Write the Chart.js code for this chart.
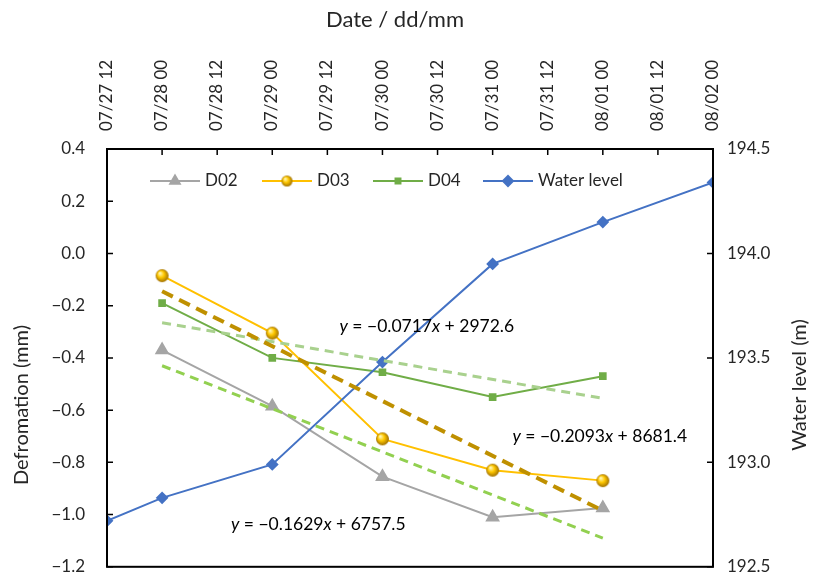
<!DOCTYPE html>
<html>
<head>
<meta charset="utf-8">
<script src="https://cdn.jsdelivr.net/npm/chart.js@4.4.1/dist/chart.umd.min.js"></script>
<style>
  html, body { margin: 0; padding: 0; background: #fff; }
</style>
</head>
<body>
<canvas id="deformChart" width="819" height="579"></canvas>
<script>
// x values are days counted from 07/27 00:00
const tickLabels = ['07/27 12', '07/28 00', '07/28 12', '07/29 00', '07/29 12', '07/30 00',
                    '07/30 12', '07/31 00', '07/31 12', '08/01 00', '08/01 12', '08/02 00'];
const seriesDays = [1, 2, 3, 4, 5];
const waterDays = [0.5, 1, 2, 3, 4, 5, 6];
const d02 = [-0.37, -0.585, -0.855, -1.01, -0.975];
const d03 = [-0.085, -0.305, -0.71, -0.83, -0.87];
const d04 = [-0.19, -0.40, -0.455, -0.55, -0.47];
const waterLevel = [192.72, 192.83, 192.99, 193.48, 193.95, 194.15, 194.34];
const trendDays = [1, 5];
const trendD02 = [-0.43, -1.09];
const trendD03 = [-0.145, -0.985];
const trendD04 = [-0.265, -0.555];

const FONT = 'Lato, "Open Sans", sans-serif';
const TEXT = '#262626';

function pts(xs, ys) {
    return xs.map((x, i) => ({ x: x, y: ys[i] }));
}

// shiny gold ball marker for D03
function ballMarker(r) {
    const c = document.createElement('canvas');
    c.width = r * 2 + 2;
    c.height = r * 2 + 2;
    const g = c.getContext('2d');
    const cx = r + 1, cy = r + 1;
    const grad = g.createRadialGradient(cx - r * 0.35, cy - r * 0.4, r * 0.1, cx, cy, r);
    grad.addColorStop(0, '#fff6b0');
    grad.addColorStop(0.45, '#ffc800');
    grad.addColorStop(1, '#a07000');
    g.fillStyle = grad;
    g.beginPath();
    g.arc(cx, cy, r, 0, Math.PI * 2);
    g.fill();
    return c;
}
const goldBall = ballMarker(6.5);
const goldBallSmall = ballMarker(5.5);

const fmtMinus = (v, d) => (v < 0 ? '\u2212' : '') + Math.abs(v).toFixed(d);

// invisible tick marks push the labels away from the frame
const hiddenGrid = len => ({
    display: true, drawOnChartArea: false, drawTicks: true, tickLength: len, color: 'rgba(0,0,0,0)'
});

const decorPlugin = {
    id: 'decor',
    afterDraw(chart) {
        const ctx = chart.ctx;
        const a = chart.chartArea;
        const xs = chart.scales.x, yl = chart.scales.y, yr = chart.scales.y2;
        ctx.save();

        // frame
        ctx.strokeStyle = '#000';
        ctx.lineWidth = 2;
        ctx.strokeRect(a.left, a.top, a.right - a.left, a.bottom - a.top);

        // inner tick marks
        ctx.lineWidth = 1.5;
        ctx.beginPath();
        xs.ticks.forEach(t => {
            const px = xs.getPixelForValue(t.value);
            ctx.moveTo(px, a.top); ctx.lineTo(px, a.top + 6);
        });
        yl.ticks.forEach(t => {
            const py = yl.getPixelForValue(t.value);
            ctx.moveTo(a.left, py); ctx.lineTo(a.left + 6, py);
        });
        yr.ticks.forEach(t => {
            const py = yr.getPixelForValue(t.value);
            ctx.moveTo(a.right, py); ctx.lineTo(a.right - 6, py);
        });
        ctx.stroke();

        // titles
        ctx.fillStyle = TEXT;
        ctx.textAlign = 'center';
        ctx.textBaseline = 'middle';
        ctx.font = '22px ' + FONT;
        ctx.fillText('Date / dd/mm', 395, 20);
        ctx.font = '20px ' + FONT;
        ctx.save();
        ctx.translate(22, 405);
        ctx.rotate(-Math.PI / 2);
        ctx.fillText('Defromation (mm)', 0, 0);
        ctx.restore();
        ctx.save();
        ctx.translate(800, 385);
        ctx.rotate(-Math.PI / 2);
        ctx.fillText('Water level (m)', 0, 0);
        ctx.restore();

        // legend inside plot
        const ly = a.top + 32;
        const items = [
            { label: 'D02', color: '#a5a5a5', style: 'triangle', r: 5.5, x0: 150 },
            { label: 'D03', color: '#ffc000', style: goldBallSmall, r: 5.5, x0: 262 },
            { label: 'D04', color: '#70ad47', style: 'rect', r: 3.5, x0: 373 },
            { label: 'Water level', color: '#4472c4', style: 'rectRot', r: 5, x0: 483 }
        ];
        items.forEach(it => {
            ctx.strokeStyle = it.color;
            ctx.fillStyle = it.color;
            ctx.lineWidth = 2;
            ctx.beginPath();
            ctx.moveTo(it.x0, ly); ctx.lineTo(it.x0 + 50, ly);
            ctx.stroke();
            Chart.helpers.drawPoint(ctx, { pointStyle: it.style, radius: it.r, borderWidth: 1, rotation: 0 }, it.x0 + 25, ly);
            ctx.fillStyle = TEXT;
            ctx.font = '17px ' + FONT;
            ctx.textAlign = 'left';
            ctx.fillText(it.label, it.x0 + 55, ly);
        });

        // trendline equations
        const eqs = [
            { day: 2.61, val: -0.281, slope: '0.0717', icpt: '2972.6' },
            { day: 4.18, val: -0.702, slope: '0.2093', icpt: '8681.4' },
            { day: 1.625, val: -1.039, slope: '0.1629', icpt: '6757.5' }
        ];
        ctx.fillStyle = '#000';
        ctx.textAlign = 'left';
        eqs.forEach(e => {
            let px = xs.getPixelForValue(e.day);
            const py = yl.getPixelForValue(e.val);
            const parts = [
                ['y', 'italic '], [' = \u2212' + e.slope, ''], ['x', 'italic '], [' + ' + e.icpt, '']
            ];
            parts.forEach(p => {
                ctx.font = p[1] + '17.5px ' + FONT;
                ctx.fillText(p[0], px, py);
                px += ctx.measureText(p[0]).width;
            });
        });
        ctx.restore();
    }
};

const ctx = document.getElementById('deformChart').getContext('2d');
const deformChart = new Chart(ctx, {
    type: 'line',
    data: {
        datasets: [
            {
                label: 'D02 trend', data: pts(trendDays, trendD02), yAxisID: 'y',
                borderColor: '#92d050', borderWidth: 3, borderDash: [9, 6], pointRadius: 0
            },
            {
                label: 'D03 trend', data: pts(trendDays, trendD03), yAxisID: 'y',
                borderColor: '#bf9000', borderWidth: 4, borderDash: [12, 7], pointRadius: 0
            },
            {
                label: 'D04 trend', data: pts(trendDays, trendD04), yAxisID: 'y',
                borderColor: '#a9d18e', borderWidth: 3, borderDash: [9, 6], pointRadius: 0
            },
            {
                label: 'D02', data: pts(seriesDays, d02), yAxisID: 'y',
                borderColor: '#a5a5a5', backgroundColor: '#a5a5a5', borderWidth: 2,
                pointStyle: 'triangle', pointRadius: 6.5, order: 4
            },
            {
                label: 'D03', data: pts(seriesDays, d03), yAxisID: 'y',
                borderColor: '#ffc000', backgroundColor: '#ffc000', borderWidth: 2,
                pointStyle: goldBall, pointRadius: 6.5, order: 3
            },
            {
                label: 'D04', data: pts(seriesDays, d04), yAxisID: 'y',
                borderColor: '#70ad47', backgroundColor: '#70ad47', borderWidth: 2,
                pointStyle: 'rect', pointRadius: 4, order: 2
            },
            {
                label: 'Water level', data: pts(waterDays, waterLevel), yAxisID: 'y2',
                borderColor: '#4472c4', backgroundColor: '#4472c4', borderWidth: 2,
                pointStyle: 'rectRot', pointRadius: 5, order: 1
            }
        ]
    },
    options: {
        responsive: false,
        animation: false,
        layout: { padding: { left: 0, right: 0, top: 0, bottom: 12 } },
        plugins: { legend: { display: false }, tooltip: { enabled: false } },
        elements: { line: { tension: 0 } },
        scales: {
            x: {
                type: 'linear', position: 'top', min: 0.5, max: 6,
                grid: { display: false }, border: { display: false },
                afterFit: s => { s.height = 149; },
                ticks: {
                    stepSize: 0.5, autoSkip: false, maxRotation: 90, minRotation: 90,
                    padding: 10, labelOffset: 20,
                    color: TEXT, font: { family: FONT, size: 17 },
                    callback: v => tickLabels[Math.round((v - 0.5) / 0.5)]
                }
            },
            y: {
                position: 'left', min: -1.2, max: 0.4,
                grid: hiddenGrid(20), border: { display: false },
                afterFit: s => { s.width = 107; },
                ticks: {
                    stepSize: 0.2, padding: 2, color: TEXT, font: { family: FONT, size: 17 },
                    callback: v => fmtMinus(v, 1)
                }
            },
            y2: {
                position: 'right', min: 192.5, max: 194.5,
                grid: hiddenGrid(12), border: { display: false },
                afterFit: s => { s.width = 106; },
                ticks: {
                    stepSize: 0.5, padding: 2, color: TEXT, font: { family: FONT, size: 17 },
                    callback: v => v.toFixed(1)
                }
            }
        }
    },
    plugins: [decorPlugin]
});
</script>
</body>
</html>
